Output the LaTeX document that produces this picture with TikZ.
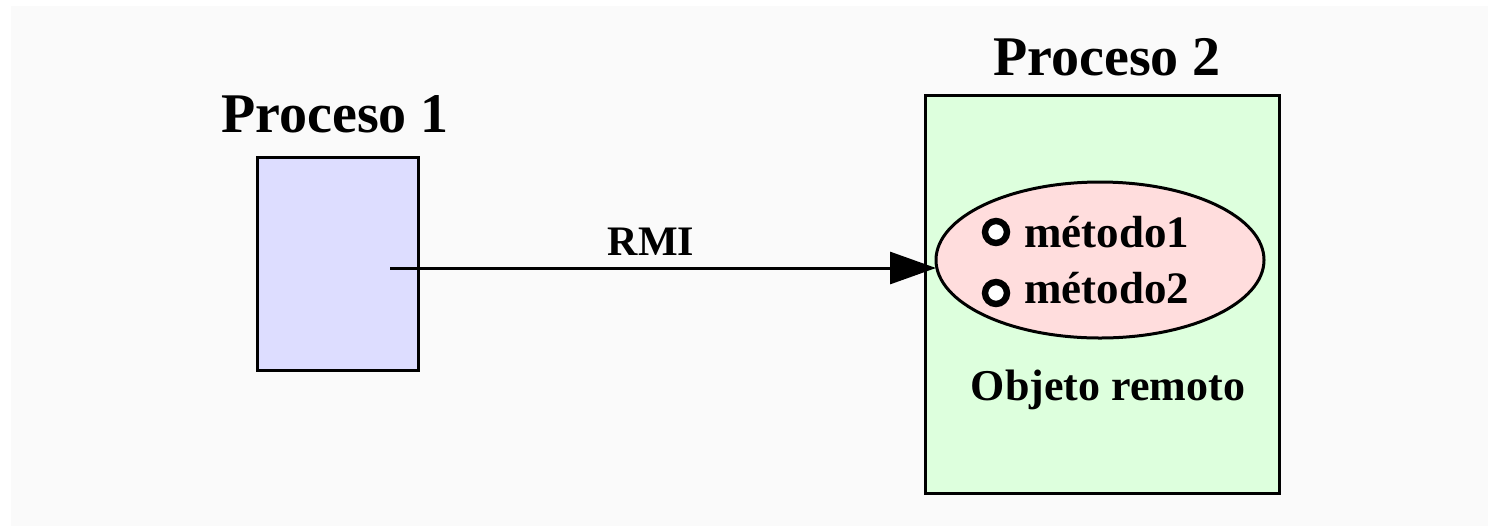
\documentclass[tikz,border=0pt]{standalone}
\usepackage{fontspec}
\setmainfont{Liberation Serif}
\usetikzlibrary{arrows.meta,shapes.geometric}
\definecolor{bgc}{HTML}{FAFAFA}
\definecolor{bluefill}{HTML}{DDDDFF}
\definecolor{greenfill}{HTML}{DDFFDD}
\definecolor{pinkfill}{HTML}{FFDDDD}
\tikzset{
  procbox/.style={draw=black, line width=1.5pt, inner sep=0pt},
  titletext/.style={font=\bfseries\fontsize{28}{30}\selectfont, anchor=base, inner sep=0pt},
  smalltext/.style={font=\bfseries\fontsize{22}{24}\selectfont, anchor=base, inner sep=0pt},
  methdot/.style={circle, draw=black, fill=white, line width=3.2pt, minimum size=11pt, inner sep=0pt},
}
\begin{document}
\begin{tikzpicture}[x=0.5pt, y=-0.5pt]
\useasboundingbox (0,0) rectangle (1488,526);
\fill[white] (0,0) rectangle (1488,526);
\fill[bgc] (11,6) rectangle (1488,526);
% boxes
\node[procbox, fill=bluefill, minimum width=80.5pt, minimum height=106.5pt] (p1) at (337.5,263.5) {};
\node[procbox, fill=greenfill, minimum width=177pt, minimum height=199pt] (p2) at (1102,294) {};
\node[titletext] (t1) at (335,132) {Proceso 1};
\node[titletext] (t2) at (1107,75) {Proceso 2};
% ellipse
\node[ellipse, draw=black, fill=pinkfill, line width=1.5pt, minimum width=164pt, minimum height=78pt, inner sep=0pt] (ell) at (1100,260) {};
\node[methdot] (d1) at (996,232) {};
\node[methdot] (d2) at (996,293) {};
\node[smalltext, anchor=base west, font=\bfseries\fontsize{22.5}{24}\selectfont] (m1) at (1024,247) {método1};
\node[smalltext, anchor=base west, font=\bfseries\fontsize{22.5}{24}\selectfont] (m2) at (1024,303) {método2};
\node[smalltext] (obj) at (1108,400) {Objeto remoto};
% arrow
\coordinate (start) at (390,268);
\coordinate (tip) at (936,268);
\draw[line width=1.5pt, -{Triangle[length=23pt,width=16pt]}] (start) -- (tip);
\node[font=\bfseries\fontsize{21}{23}\selectfont, anchor=base, inner sep=0pt] (rmi) at (651,255) {RMI};
\end{tikzpicture}
\end{document}
